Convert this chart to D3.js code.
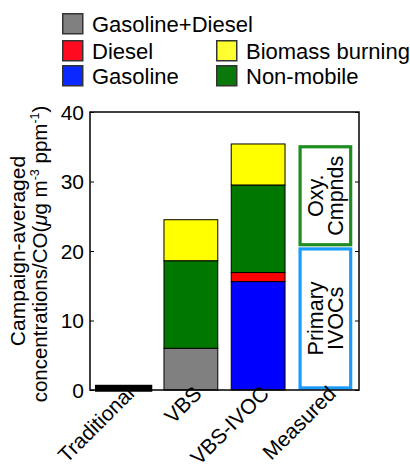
<!DOCTYPE html>
<html>
<head>
<meta charset="utf-8">
<script src="https://cdn.jsdelivr.net/npm/d3@7"></script>
<style>
  html, body { margin: 0; padding: 0; background: #fff; }
  svg { display: block; font-family: "Liberation Sans", Arial, Helvetica, sans-serif; }
</style>
</head>
<body>
<svg id="chart" width="410" height="467"></svg>
<script>
// Model estimates of campaign-averaged SOA-precursor concentrations normalised by CO
const categories = ["Traditional", "VBS", "VBS-IVOC", "Measured"];
const gasolineDiesel = [0.5, 6.0, 0, 0];
const gasoline       = [0, 0, 15.6, 0];
const diesel         = [0, 0, 1.3, 0];
const nonMobile      = [0, 12.6, 12.6, 0];
const biomass        = [0, 5.9, 5.9, 0];

// Measured totals, split into primary IVOCs and oxygenated compounds
const measuredPrimaryIVOCs = 20.6;
const measuredOxyCompounds = 14.7;

const yTicks = [0, 10, 20, 30, 40];

const seriesKeys   = ["gasDiesel", "gasoline", "diesel", "nonMobile", "biomass"];
const seriesColors = {
  gasDiesel: "#808080",
  gasoline:  "#0000ff",
  diesel:    "#ff0000",
  nonMobile: "#007800",
  biomass:   "#ffff00"
};

const legendItems = [
  { label: "Gasoline+Diesel", color: "#808080", col: 0, row: 0 },
  { label: "Diesel",          color: "#ff0a1e", col: 0, row: 1 },
  { label: "Gasoline",        color: "#0a28ff", col: 0, row: 2 },
  { label: "Biomass burning", color: "#ffff30", col: 1, row: 1 },
  { label: "Non-mobile",      color: "#0b780b", col: 1, row: 2 }
];

const rows = categories.map((c, i) => ({
  category: c,
  gasDiesel: gasolineDiesel[i],
  gasoline: gasoline[i],
  diesel: diesel[i],
  nonMobile: nonMobile[i],
  biomass: biomass[i]
}));

const svg = d3.select("#chart");
const plot = { left: 90, right: 359, top: 112, bottom: 390 };

const x = d3.scaleBand()
  .domain(categories)
  .range([plot.left, plot.right])
  .paddingInner(0.2)
  .paddingOuter(0.1);

const y = d3.scaleLinear()
  .domain([0, 40])
  .range([plot.bottom, plot.top]);

// Stacked model bars
const stacked = d3.stack().keys(seriesKeys)(rows);

svg.append("g")
  .selectAll("g")
  .data(stacked)
  .join("g")
  .attr("fill", d => seriesColors[d.key])
  .selectAll("rect")
  .data(d => d.filter(s => s[1] - s[0] > 0))
  .join("rect")
  .attr("x", d => x(d.data.category))
  .attr("width", x.bandwidth())
  .attr("y", d => y(d[1]))
  .attr("height", d => y(d[0]) - y(d[1]))
  .attr("stroke", "#000")
  .attr("stroke-width", d => d.data.category === "Traditional" ? 3.5 : 1);

// Measured: outlined boxes for primary IVOCs and oxygenated compounds
const mx = x("Measured");
const mw = x.bandwidth();
const measured = [
  { lo: 0, hi: measuredPrimaryIVOCs, color: "#1a9cff", lines: ["Primary", "IVOCs"] },
  { lo: measuredPrimaryIVOCs, hi: measuredPrimaryIVOCs + measuredOxyCompounds, color: "#1e8c1e", lines: ["Oxy.", "Cmpnds"] }
];
const sw = 3.2;
const mg = svg.append("g");
mg.selectAll("rect")
  .data(measured)
  .join("rect")
  .attr("x", mx + sw / 2)
  .attr("width", mw - sw)
  .attr("y", d => y(d.hi) + sw / 2 + 0.5)
  .attr("height", d => y(d.lo) - y(d.hi) - sw - 1)
  .attr("fill", "#fff")
  .attr("stroke", d => d.color)
  .attr("stroke-width", sw);

mg.selectAll("text")
  .data(measured)
  .join("text")
  .attr("transform", d => `translate(${mx + mw / 2},${(y(d.lo) + y(d.hi)) / 2}) rotate(-90)`)
  .attr("text-anchor", "middle")
  .attr("font-size", 21.5)
  .selectAll("tspan")
  .data(d => d.lines)
  .join("tspan")
  .attr("x", 0)
  .attr("dy", (d, i) => i === 0 ? "-0.12em" : "0.92em")
  .text(d => d);

// Frame and axes
svg.append("rect")
  .attr("x", plot.left)
  .attr("y", plot.top)
  .attr("width", plot.right - plot.left)
  .attr("height", plot.bottom - plot.top)
  .attr("fill", "none")
  .attr("stroke", "#000")
  .attr("stroke-width", 1.5);

const yAxisL = svg.append("g")
  .attr("transform", `translate(${plot.left},0)`)
  .call(d3.axisRight(y).tickValues(yTicks).tickSize(4).tickFormat(""));
yAxisL.select(".domain").remove();

const yAxisR = svg.append("g")
  .attr("transform", `translate(${plot.right},0)`)
  .call(d3.axisLeft(y).tickValues(yTicks).tickSize(4).tickFormat(""));
yAxisR.select(".domain").remove();

svg.append("g")
  .selectAll("text")
  .data(yTicks)
  .join("text")
  .attr("x", plot.left - 6)
  .attr("y", d => y(d))
  .attr("dy", "0.36em")
  .attr("text-anchor", "end")
  .attr("font-size", 21)
  .text(d => d);

// Category labels, rotated
svg.append("g")
  .selectAll("text")
  .data(categories)
  .join("text")
  .attr("transform", d => `translate(${x(d) + x.bandwidth() / 2 + 12},${plot.bottom + 5}) rotate(-45)`)
  .attr("text-anchor", "end")
  .attr("font-size", 21)
  .text(d => d);

// Y-axis title (two lines)
const yt = svg.append("g")
  .attr("transform", `translate(0,${(plot.top + plot.bottom) / 2}) rotate(-90)`);
yt.append("text")
  .attr("x", 0).attr("y", 25)
  .attr("text-anchor", "middle")
  .attr("font-size", 21)
  .text("Campaign-averaged");
const yt2 = yt.append("text")
  .attr("x", -3).attr("y", 47)
  .attr("text-anchor", "middle")
  .attr("font-size", 20.5);
yt2.append("tspan").text("concentrations/CO(");
yt2.append("tspan").attr("font-style", "italic").text("\u03bc");
yt2.append("tspan").text("g m");
yt2.append("tspan").attr("font-size", 12.5).attr("dy", -8).text("-3");
yt2.append("tspan").attr("dy", 8).text(" ppm");
yt2.append("tspan").attr("font-size", 12.5).attr("dy", -8).text("-1");
yt2.append("tspan").attr("dy", 8).text(")");

// Legend
const legend = svg.append("g");
const colX = [62, 216];
const rowY = [13, 40, 65];
const li = legend.selectAll("g")
  .data(legendItems)
  .join("g")
  .attr("transform", d => `translate(${colX[d.col]},${rowY[d.row]})`);
li.append("rect")
  .attr("x", 0.75).attr("y", 0.75)
  .attr("width", 20).attr("height", 20)
  .attr("fill", d => d.color)
  .attr("stroke", "#333")
  .attr("stroke-width", 1.5);
li.append("text")
  .attr("x", 30)
  .attr("y", 18.5)
  .attr("font-size", 22)
  .text(d => d.label);
</script>
</body>
</html>
